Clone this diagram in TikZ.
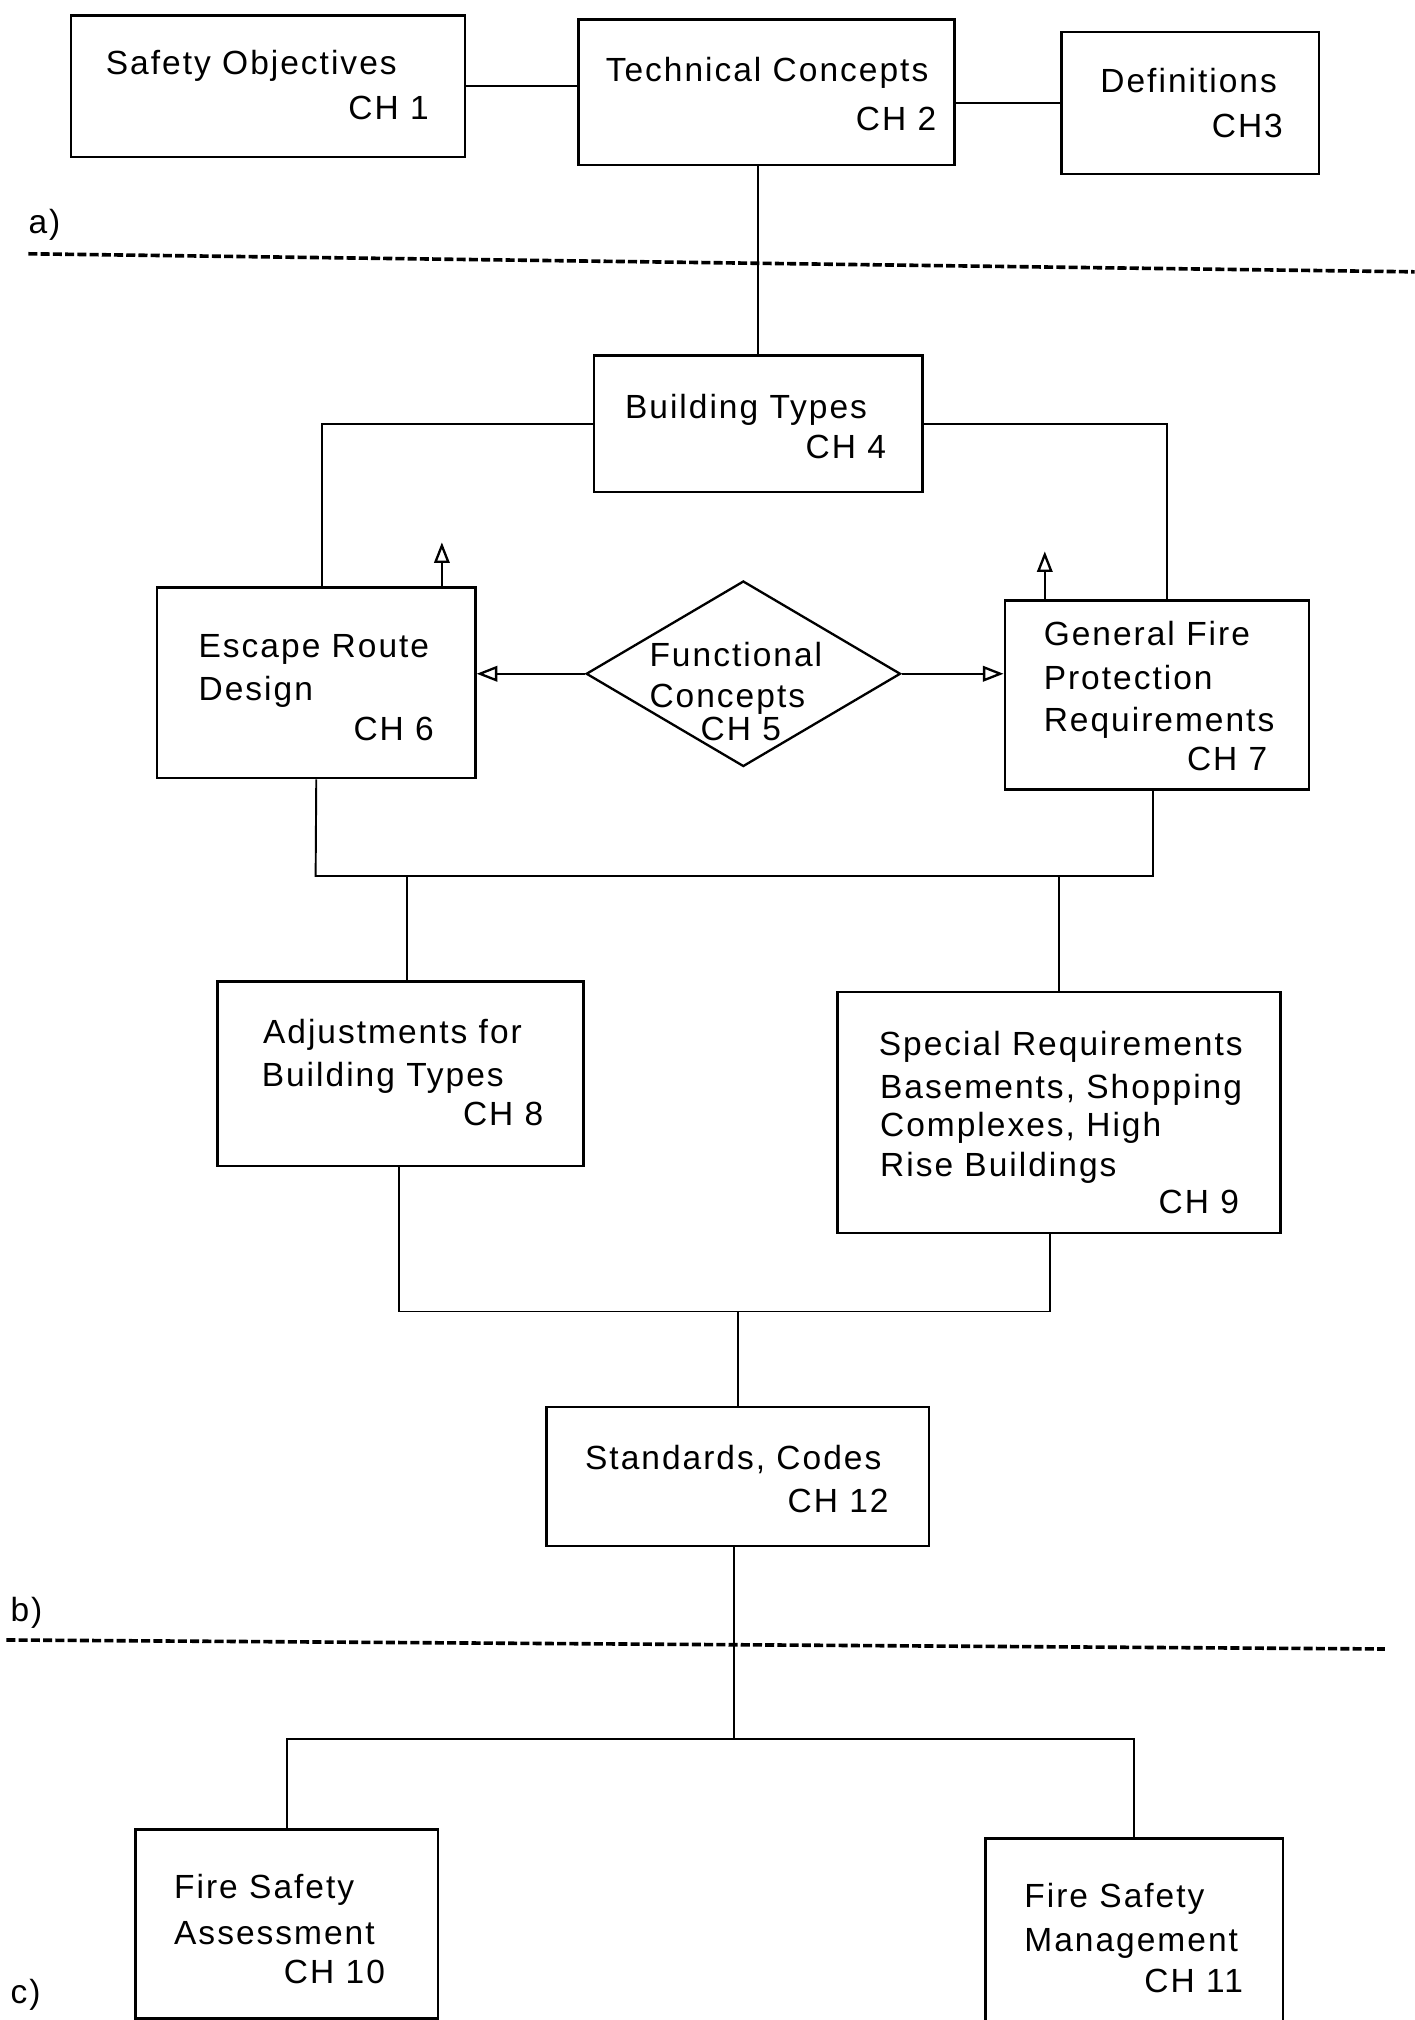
\documentclass[tikz,border=0pt]{standalone}
\usepackage{fontspec}
\setmainfont{Liberation Sans}[LetterSpace=6]
\usetikzlibrary{shapes.geometric,arrows.meta}
\begin{document}
\begin{tikzpicture}[x=1pt,y=-1pt,
  box/.style={draw, line width=2pt, inner sep=0pt},
  conn/.style={line width=1.5pt},
  arr/.style={line width=1.5pt, -{Triangle[open,length=16pt,width=12pt,line width=1.8pt]}},
  sep/.style={line width=2.8pt, dash pattern=on 7pt off 2.5pt},
  txt/.style={font=\fontsize{26}{30}\selectfont, inner sep=0pt}]
\fill[white] (0,0) rectangle (1098,1568);
\useasboundingbox (0,0) rectangle (1098,1568);
% boxes
\node[box, minimum width=306pt, minimum height=110pt] (so) at (208,67) {};
\node[box, minimum width=292pt, minimum height=113pt] (tc) at (595,71.5) {};
\node[box, minimum width=200pt, minimum height=110pt] (def) at (924,80) {};
\node[box, minimum width=255pt, minimum height=106pt] (bt) at (588.5,329) {};
\node[box, minimum width=247pt, minimum height=148pt] (er) at (245.5,530) {};
\node[draw, diamond, line width=1.8pt, inner sep=0pt, minimum width=244pt, minimum height=144pt] (fc) at (577,523) {};
\node[box, minimum width=236pt, minimum height=147pt] (gf) at (898,539.5) {};
\node[box, minimum width=284pt, minimum height=143pt] (adj) at (311,833.5) {};
\node[box, minimum width=344pt, minimum height=187pt] (sp) at (822,863.5) {};
\node[box, minimum width=297pt, minimum height=108pt] (std) at (572.5,1146) {};
\node[box, minimum width=235pt, minimum height=147pt] (fsa) at (222.5,1493.5) {};
\node[box, minimum width=231pt, minimum height=145pt] (fsm) at (880.5,1499.5) {};
% texts
\node[txt, anchor=base west] (t1) at (82,58) {Safety Objectives};
\node[txt, anchor=base east] (t2) at (333,93) {CH 1};
\node[txt, anchor=base west] (t3) at (470,63) {Technical Concepts};
\node[txt, anchor=base east] (t4) at (727,101) {CH 2};
\node[txt, anchor=base west] (t5) at (854,72) {Definitions};
\node[txt, anchor=base east] (t6) at (996,107) {CH3};
\node[txt, anchor=base west] (t7) at (485,325) {Building Types};
\node[txt, anchor=base east] (t8) at (688,356) {CH 4};
\node[txt, anchor=base west] (t9) at (154,510) {Escape Route};
\node[txt, anchor=base west] (t10) at (154,544) {Design};
\node[txt, anchor=base east] (t11) at (337,575) {CH 6};
\node[txt, anchor=base west] (t12) at (504,517) {Functional};
\node[txt, anchor=base west] (t13) at (504,549) {Concepts};
\node[txt, anchor=base] (t14) at (575,575) {CH 5};
\node[txt, anchor=base west] (t15) at (810,501) {General Fire};
\node[txt, anchor=base west] (t16) at (810,535) {Protection};
\node[txt, anchor=base west] (t17) at (810,568) {Requirements};
\node[txt, anchor=base east] (t18) at (984,598) {CH 7};
\node[txt, anchor=base west] (t19) at (204,810) {Adjustments for};
\node[txt, anchor=base west] (t20) at (203,843) {Building Types};
\node[txt, anchor=base east] (t21) at (422,874) {CH 8};
\node[txt, anchor=base west] (t22) at (682,819) {Special Requirements};
\node[txt, anchor=base west] (t23) at (683,853) {Basements, Shopping};
\node[txt, anchor=base west] (t24) at (683,882) {Complexes, High};
\node[txt, anchor=base west] (t25) at (683,913) {Rise Buildings};
\node[txt, anchor=base east] (t26) at (962,942) {CH 9};
\node[txt, anchor=base west] (t27) at (454,1141) {Standards, Codes};
\node[txt, anchor=base east] (t28) at (690,1174) {CH 12};
\node[txt, anchor=base west] (t29) at (135,1474) {Fire Safety};
\node[txt, anchor=base west] (t30) at (135,1509) {Assessment};
\node[txt, anchor=base east] (t31) at (299,1540) {CH 10};
\node[txt, anchor=base west] (t32) at (795,1481) {Fire Safety};
\node[txt, anchor=base west] (t33) at (795,1515) {Management};
\node[txt, anchor=base east] (t34) at (965,1547) {CH 11};
\node[txt, anchor=base west] (la) at (22,181) {a)};
\node[txt, anchor=base west] (lb) at (8,1259) {b)};
\node[txt, anchor=base west] (lc) at (8,1555) {c)};
% separators
\coordinate (sa1) at (22,197); \coordinate (sa2) at (1098,211);
\coordinate (sb1) at (5,1273); \coordinate (sb2) at (1075,1280);
\draw[sep] (sa1) -- (sa2);
\draw[sep] (sb1) -- (sb2);
% connectors
\coordinate (erup) at (343,421);
\coordinate (gfup) at (811,428);
\coordinate (m1) at (245,680); \coordinate (m2) at (895,680);
\coordinate (n1) at (310,1018); \coordinate (n2) at (815,1018);
\coordinate (p) at (570,1350);
\draw[conn] (so.east) -- (so.east -| tc.west);
\draw[conn] (def.west -| tc.east) -- (def.west);
\draw[conn] (tc.south -| bt.north) -- (bt.north);
\draw[conn] (bt.west) -| ([xshift=4.5pt]er.north);
\draw[conn] (bt.east) -| ([xshift=8pt]gf.north);
\draw[arr] (er.north -| erup) -- (erup);
\draw[arr] (gf.north -| gfup) -- (gfup);
\draw[arr] (fc.west) -- (fc.west -| er.east);
\draw[arr] (fc.east) -- (fc.east -| gf.west);
\draw[conn] (er.south) -- (m1) -- (m2) -- (m2 |- gf.south);
\draw[conn] ([xshift=5pt]adj.north |- m1) -- ([xshift=5pt]adj.north);
\draw[conn] (sp.north |- m1) -- (sp.north);
\draw[conn] (adj.south -| n1) -- (n1) -- (n2) -- (n2 |- sp.south);
\draw[conn] (std.north |- n1) -- (std.north);
\draw[conn] (std.south -| p) -- (p);
\draw[conn] (fsa.north) -- (fsa.north |- p) -- (fsm.north |- p) -- (fsm.north);
\end{tikzpicture}
\end{document}
